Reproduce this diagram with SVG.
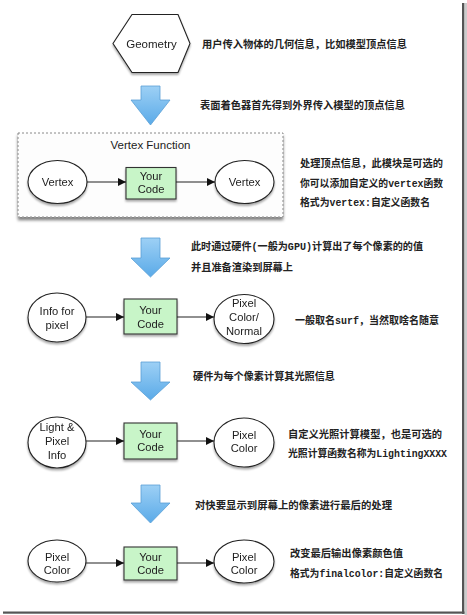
<svg xmlns="http://www.w3.org/2000/svg" width="467" height="615" viewBox="0 0 467 615">
<style>
.node{fill:#fff;stroke:#222;stroke-width:1.1;}
.code{fill:#c8f5c8;stroke:#333;stroke-width:1.1;}
.lbl{font-family:"Liberation Sans",Arial,sans-serif;font-size:11.2px;fill:#222;text-anchor:middle;}
.cn{font-family:"Liberation Mono","Noto Sans CJK SC",monospace;font-size:10.5px;font-weight:bold;fill:#222;}
.conn{stroke:#222;stroke-width:1.1;fill:none;marker-end:url(#ah);}
.big{fill:url(#bl);stroke:#5a9fd6;stroke-width:0.8;}
</style>
<defs>
<marker id="ah" viewBox="0 0 10 10" refX="10" refY="5" markerWidth="10" markerHeight="8" markerUnits="userSpaceOnUse" orient="auto"><path d="M0,0 L10,5 L0,10 z" fill="#111"/></marker>
<linearGradient id="bl" x1="0" y1="0" x2="0" y2="1"><stop offset="0" stop-color="#9dd0f5"/><stop offset="1" stop-color="#5aaae8"/></linearGradient>
<filter id="sh" x="-20%" y="-20%" width="140%" height="150%"><feGaussianBlur in="SourceAlpha" stdDeviation="1.2"/><feOffset dx="0" dy="2" result="b"/><feComponentTransfer><feFuncA type="linear" slope="0.35"/></feComponentTransfer><feMerge><feMergeNode/><feMergeNode in="SourceGraphic"/></feMerge></filter>
<filter id="sh2" x="-5%" y="-10%" width="110%" height="125%"><feGaussianBlur in="SourceAlpha" stdDeviation="1.5"/><feOffset dx="0" dy="3" result="b"/><feComponentTransfer><feFuncA type="linear" slope="0.5"/></feComponentTransfer><feMerge><feMergeNode/><feMergeNode in="SourceGraphic"/></feMerge></filter>
</defs>
<rect x="0" y="0" width="467" height="615" fill="#fff"/>
<!-- frame shadow -->
<rect x="462" y="3" width="2.5" height="611" fill="#555"/>
<rect x="464.5" y="3" width="2.5" height="612" fill="#ccc"/>
<rect x="3" y="611.5" width="461.5" height="2.2" fill="#555"/>

<!-- geometry -->
<g id="geometry" filter="url(#sh)">
<polygon class="node" points="113,43.5 132,14.5 178,14.5 190,43.5 178,72.5 132,72.5"/>
<text class="lbl" x="151.5" y="48" style="font-size:11.5px">Geometry</text>
</g>

<!-- big arrows -->
<g id="flow-arrows">
<path class="big" d="M141,86 H160 V100 H170 L150.5,125 L131,100 H141 Z"/>
<path class="big" d="M141,238 H160 V258 H170 L150.5,277 L131,258 H141 Z"/>
<path class="big" d="M141,362 H160 V382 H170 L150.5,400 L131,382 H141 Z"/>
<path class="big" d="M141,485 H160 V503 H170 L150.5,523 L131,503 H141 Z"/>
</g>

<!-- vertex function group -->
<g id="vertex-function">
<rect x="18" y="133" width="265" height="84" fill="#fdfdfd" stroke="#888" stroke-width="1" stroke-dasharray="2,2" filter="url(#sh2)"/>
<text class="lbl" x="150.5" y="149" style="font-size:11.5px">Vertex Function</text>
</g>

<g id="v-in" filter="url(#sh)"><ellipse class="node" cx="57.5" cy="182" rx="29.5" ry="21.5"/><text class="lbl" x="57.5" y="186">Vertex</text></g>
<g id="v-code" filter="url(#sh)"><rect class="code" x="126" y="167.5" width="50" height="31.5"/><text class="lbl" x="151" y="180">Your</text><text class="lbl" x="151" y="193">Code</text></g>
<g id="v-out" filter="url(#sh)"><ellipse class="node" cx="244.5" cy="182" rx="29.5" ry="21.5"/><text class="lbl" x="244.5" y="186">Vertex</text></g>

<g id="s-in" filter="url(#sh)"><ellipse class="node" cx="57" cy="317.5" rx="29" ry="24.5"/><text class="lbl" x="57" y="315">Info for</text><text class="lbl" x="57" y="328.5">pixel</text></g>
<g id="s-code" filter="url(#sh)"><rect class="code" x="124" y="299" width="53" height="35"/><text class="lbl" x="150.5" y="314">Your</text><text class="lbl" x="150.5" y="328">Code</text></g>
<g id="s-out" filter="url(#sh)"><ellipse class="node" cx="244" cy="319" rx="30" ry="24.5"/><text class="lbl" x="244" y="307">Pixel</text><text class="lbl" x="244" y="321">Color/</text><text class="lbl" x="244" y="335">Normal</text></g>

<g id="l-in" filter="url(#sh)"><ellipse class="node" cx="57" cy="442.5" rx="29" ry="25.5"/><text class="lbl" x="57" y="431">Light &amp;</text><text class="lbl" x="57" y="445">Pixel</text><text class="lbl" x="57" y="458.5">Info</text></g>
<g id="l-code" filter="url(#sh)"><rect class="code" x="124" y="423" width="53" height="36"/><text class="lbl" x="150.5" y="437.5">Your</text><text class="lbl" x="150.5" y="451">Code</text></g>
<g id="l-out" filter="url(#sh)"><ellipse class="node" cx="244" cy="442.5" rx="30" ry="24.5"/><text class="lbl" x="244" y="438.5">Pixel</text><text class="lbl" x="244" y="451.5">Color</text></g>

<g id="f-in" filter="url(#sh)"><ellipse class="node" cx="57" cy="561" rx="29" ry="21"/><text class="lbl" x="57" y="561">Pixel</text><text class="lbl" x="57" y="574">Color</text></g>
<g id="f-code" filter="url(#sh)"><rect class="code" x="124" y="547" width="53" height="33"/><text class="lbl" x="150.5" y="561">Your</text><text class="lbl" x="150.5" y="574">Code</text></g>
<g id="f-out" filter="url(#sh)"><ellipse class="node" cx="244" cy="561.5" rx="30" ry="21.5"/><text class="lbl" x="244" y="561">Pixel</text><text class="lbl" x="244" y="574">Color</text></g>

<g id="connectors">
<line class="conn" x1="87" y1="182" x2="126" y2="182"/>
<line class="conn" x1="176" y1="182" x2="215" y2="182"/>
<line class="conn" x1="86" y1="317" x2="124" y2="317"/>
<line class="conn" x1="177" y1="317" x2="214" y2="317"/>
<line class="conn" x1="86" y1="441" x2="124" y2="441"/>
<line class="conn" x1="177" y1="441" x2="214" y2="441"/>
<line class="conn" x1="86" y1="563" x2="124" y2="563"/>
<line class="conn" x1="177" y1="563" x2="214" y2="563"/>
</g>

<g id="notes">
<text class="cn" x="202" y="48" textLength="205" lengthAdjust="spacingAndGlyphs">用户传入物体的几何信息，比如模型顶点信息</text>
<text class="cn" x="200" y="109" textLength="205" lengthAdjust="spacingAndGlyphs">表面着色器首先得到外界传入模型的顶点信息</text>
<text class="cn" x="300" y="167" textLength="143" lengthAdjust="spacingAndGlyphs">处理顶点信息，此模块是可选的</text>
<text class="cn" x="300" y="187" textLength="143" lengthAdjust="spacingAndGlyphs">你可以添加自定义的vertex函数</text>
<text class="cn" x="300" y="206" textLength="130" lengthAdjust="spacingAndGlyphs">格式为vertex:自定义函数名</text>
<text class="cn" x="191" y="250" textLength="232" lengthAdjust="spacingAndGlyphs">此时通过硬件(一般为GPU)计算出了每个像素的的值</text>
<text class="cn" x="191" y="271" textLength="102" lengthAdjust="spacingAndGlyphs">并且准备渲染到屏幕上</text>
<text class="cn" x="295" y="324" textLength="144" lengthAdjust="spacingAndGlyphs">一般取名surf，当然取啥名随意</text>
<text class="cn" x="193" y="380" textLength="142" lengthAdjust="spacingAndGlyphs">硬件为每个像素计算其光照信息</text>
<text class="cn" x="288" y="438" textLength="154" lengthAdjust="spacingAndGlyphs">自定义光照计算模型，也是可选的</text>
<text class="cn" x="288" y="457" textLength="159" lengthAdjust="spacingAndGlyphs">光照计算函数名称为LightingXXXX</text>
<text class="cn" x="195" y="509" textLength="197" lengthAdjust="spacingAndGlyphs">对快要显示到屏幕上的像素进行最后的处理</text>
<text class="cn" x="290" y="557" textLength="113" lengthAdjust="spacingAndGlyphs">改变最后输出像素颜色值</text>
<text class="cn" x="290" y="577" textLength="153" lengthAdjust="spacingAndGlyphs">格式为finalcolor:自定义函数名</text>
</g>
</svg>
